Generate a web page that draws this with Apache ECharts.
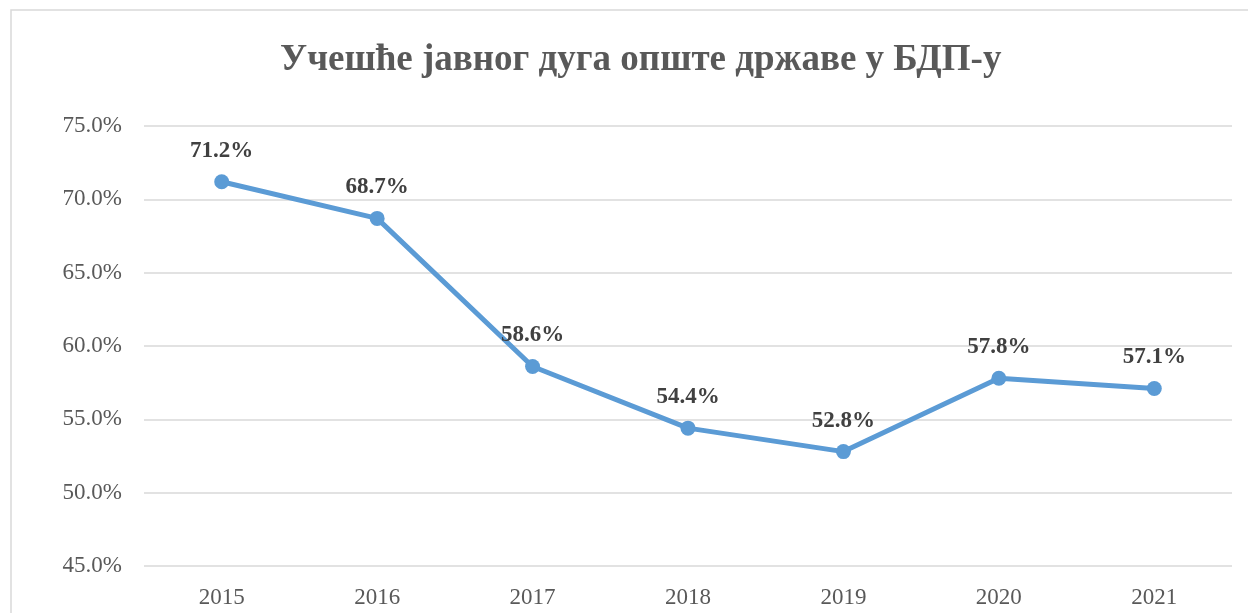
<!DOCTYPE html>
<html>
<head>
<meta charset="utf-8">
<script src="https://cdn.jsdelivr.net/npm/echarts@6/dist/echarts.min.js"></script>
<style>
  html, body { margin: 0; padding: 0; background: #fff; }
  #chart { width: 1248px; height: 613px; }
</style>
</head>
<body>
<div id="chart"></div>
<script>
// подаци са графикона
var years = ['2015', '2016', '2017', '2018', '2019', '2020', '2021'];
var debtShare = [71.2, 68.7, 58.6, 54.4, 52.8, 57.8, 57.1];
var titleText = 'Учешће јавног дуга опште државе у БДП-у';

var serif = '"Liberation Serif", "Times New Roman", serif';

var chart = echarts.init(document.getElementById('chart'));
var option = {
  backgroundColor: '#ffffff',
  animation: false,
  graphic: [{
    type: 'rect',
    shape: { x: 11, y: 10, width: 1400, height: 800 },
    style: { fill: 'none', stroke: '#d9d9d9', lineWidth: 1.5 },
    silent: true
  }],
  title: {
    text: titleText,
    left: 280,
    top: 42,
    padding: 0,
    textStyle: {
      fontFamily: serif,
      fontWeight: 'bold',
      fontSize: 37,
      color: '#595959'
    }
  },
  grid: {
    left: 144,
    right: 16,
    top: 126,
    bottom: 47
  },
  xAxis: {
    type: 'category',
    data: years,
    boundaryGap: true,
    axisLine: { show: false },
    axisTick: { show: false },
    axisLabel: {
      fontFamily: serif,
      fontSize: 23,
      color: '#595959',
      margin: 20
    }
  },
  yAxis: {
    type: 'value',
    min: 45,
    max: 75,
    interval: 5,
    axisLine: { show: false },
    axisTick: { show: false },
    splitLine: { lineStyle: { color: '#d9d9d9', width: 1.5 } },
    axisLabel: {
      fontFamily: serif,
      fontSize: 23,
      color: '#595959',
      margin: 22,
      formatter: function (v) { return v.toFixed(1) + '%'; }
    }
  },
  series: [{
    type: 'line',
    data: debtShare,
    symbol: 'circle',
    symbolSize: 15,
    lineStyle: { color: '#5b9bd5', width: 5 },
    itemStyle: { color: '#5b9bd5' },
    label: {
      show: true,
      position: 'top',
      distance: 12,
      fontFamily: serif,
      fontWeight: 'bold',
      fontSize: 23,
      color: '#404040',
      formatter: function (p) { return p.value.toFixed(1) + '%'; }
    }
  }]
};
chart.setOption(option);
</script>
</body>
</html>
